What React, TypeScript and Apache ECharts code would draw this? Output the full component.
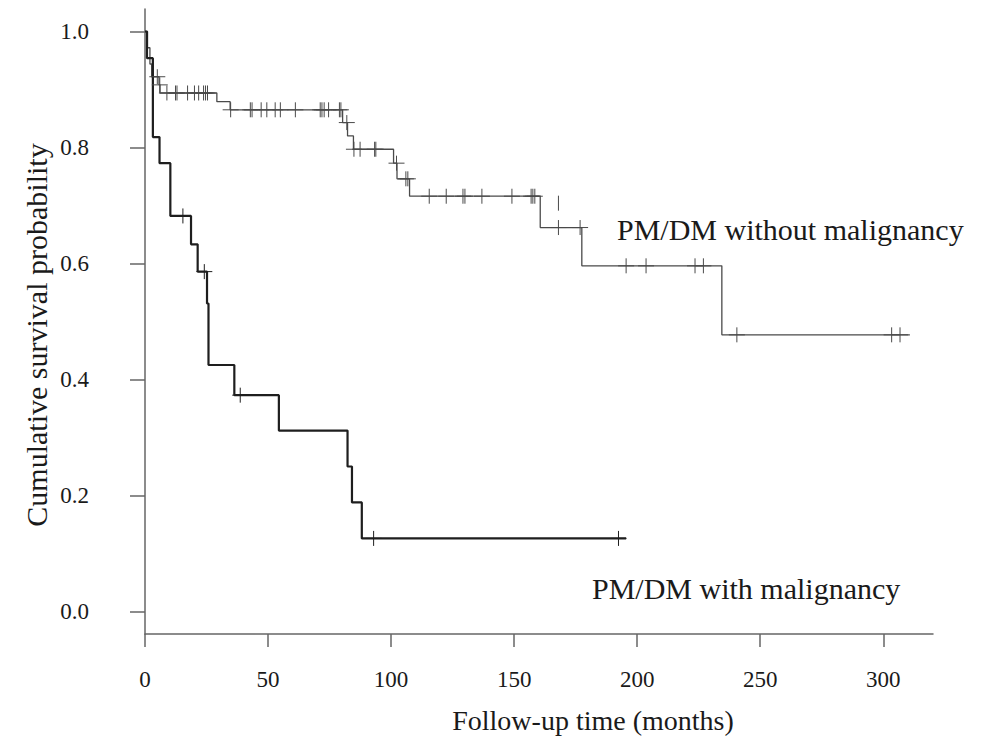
import React, { useEffect, useRef } from "react";
import * as echarts from "echarts";

// Kaplan-Meier curve: PM/DM without malignancy
const withoutTimes = [0, 1.0, 2.0, 2.7, 5.7, 6.1, 29.2, 34.6, 80.3, 82.3, 84.7, 101.0, 102.4, 107.5, 160.6, 177.5, 234.4, 310.8];
const withoutSurv = [1.0, 0.972, 0.944, 0.922, 0.908, 0.894, 0.879, 0.865, 0.843, 0.82, 0.797, 0.773, 0.746, 0.716, 0.662, 0.596, 0.477, 0.477];

// censored observations (time, survival) for "without"
const withoutCensorTimes = [5.0, 6.0, 8.9, 12.4, 13.0, 17.3, 20.1, 21.8, 23.8, 24.6, 25.4, 34.8, 42.8, 43.5, 47.2, 49.5, 52.9, 55.0, 61.1, 71.2, 71.9, 72.8, 74.6, 79.0, 79.6, 82.0, 84.9, 87.4, 93.3, 93.8, 102.2, 106.0, 106.8, 115.5, 122.4, 129.2, 130.0, 136.9, 149.1, 156.9, 157.6, 158.4, 168.0, 176.8, 195.5, 203.6, 223.5, 226.9, 240.5, 303.4, 306.8];
const withoutCensorSurv = [0.922, 0.908, 0.894, 0.894, 0.894, 0.894, 0.894, 0.894, 0.894, 0.894, 0.894, 0.865, 0.865, 0.865, 0.865, 0.865, 0.865, 0.865, 0.865, 0.865, 0.865, 0.865, 0.865, 0.865, 0.865, 0.843, 0.797, 0.797, 0.797, 0.797, 0.773, 0.746, 0.746, 0.716, 0.716, 0.716, 0.716, 0.716, 0.716, 0.716, 0.716, 0.716, 0.662, 0.662, 0.596, 0.596, 0.596, 0.596, 0.477, 0.477, 0.477];

// stray vertical censor mark
const strayMarkTimes = [168.0];
const strayMarkSurv = [0.704];

// Kaplan-Meier curve: PM/DM with malignancy
const withTimes = [0, 0.8, 3.2, 5.9, 10.3, 18.7, 21.4, 25.2, 25.8, 36.3, 54.4, 82.3, 84.1, 88.1, 195.5];
const withSurv = [1.0, 0.954, 0.818, 0.773, 0.682, 0.633, 0.586, 0.531, 0.425, 0.373, 0.312, 0.25, 0.188, 0.126, 0.126];

const withCensorTimes = [15.4, 24.1, 38.7, 92.9, 192.4];
const withCensorSurv = [0.682, 0.586, 0.373, 0.126, 0.126];

const xTicks = [0, 50, 100, 150, 200, 250, 300];
const yTicks = [0, 0.2, 0.4, 0.6, 0.8, 1.0];

const FONT = "'Liberation Serif', 'Times New Roman', serif";

function plusRenderer(color: string, withHorizontal: boolean) {
  return (params: any, api: any) => {
    const p = api.coord([api.value(0), api.value(1)]);
    const children: any[] = [
      {
        type: "line",
        shape: { x1: p[0], y1: p[1] - 7.5, x2: p[0], y2: p[1] + 7.5 },
        style: { stroke: color, lineWidth: 1 },
      },
    ];
    if (withHorizontal) {
      children.push({
        type: "line",
        shape: { x1: p[0] - 8, y1: p[1], x2: p[0] + 8, y2: p[1] },
        style: { stroke: color, lineWidth: 1 },
      });
    }
    return { type: "group", children };
  };
}

export default function App() {
  const ref = useRef<HTMLDivElement>(null);
  useEffect(() => {
    if (!ref.current) return;
    const chart = echarts.init(ref.current, undefined, { renderer: "svg" });
    const thinColor = "#4a4a4a";
    const thickColor = "#1e1e1e";
    const axisColor = "#666";
    chart.setOption({
      animation: false,
      backgroundColor: "#fff",
      grid: { left: 145, right: 54, top: 9, bottom: 105 },
      xAxis: {
        type: "value",
        min: 0,
        max: 320.2,
        interval: 50,
        axisLine: { show: true, onZero: false, lineStyle: { color: axisColor, width: 1.5 } },
        axisTick: { show: true, length: 13, lineStyle: { color: axisColor, width: 1.5 }, customValues: xTicks },
        axisLabel: { customValues: xTicks, fontFamily: FONT, fontSize: 23, color: "#1a1a1a", margin: 34 },
        splitLine: { show: false },
      },
      yAxis: {
        type: "value",
        min: -0.0388,
        max: 1.0388,
        axisLine: { show: true, onZero: false, lineStyle: { color: axisColor, width: 1.5 } },
        axisTick: { show: true, length: 15, lineStyle: { color: axisColor, width: 1.5 }, customValues: yTicks },
        axisLabel: {
          customValues: yTicks,
          formatter: (v: number) => v.toFixed(1),
          fontFamily: FONT,
          fontSize: 23,
          color: "#1a1a1a",
          margin: 56,
        },
        splitLine: { show: false },
      },
      graphic: [
        {
          type: "text",
          x: 36,
          y: 335,
          rotation: Math.PI / 2,
          style: {
            text: "Cumulative survival probability",
            font: `30px ${FONT}`,
            fill: "#1a1a1a",
            textAlign: "center",
            textVerticalAlign: "middle",
          },
        },
        {
          type: "text",
          x: 593,
          y: 720,
          style: {
            text: "Follow-up time (months)",
            font: `28px ${FONT}`,
            fill: "#1a1a1a",
            textAlign: "center",
            textVerticalAlign: "middle",
          },
        },
        {
          type: "text",
          x: 617,
          y: 229,
          style: {
            text: "PM/DM without malignancy",
            font: `30px ${FONT}`,
            fill: "#1a1a1a",
            textAlign: "left",
            textVerticalAlign: "middle",
          },
        },
        {
          type: "text",
          x: 592,
          y: 588,
          style: {
            text: "PM/DM with malignancy",
            font: `30px ${FONT}`,
            fill: "#1a1a1a",
            textAlign: "left",
            textVerticalAlign: "middle",
          },
        },
      ],
      series: [
        {
          type: "line",
          step: "end",
          showSymbol: false,
          data: withoutTimes.map((t, i) => [t, withoutSurv[i]]),
          lineStyle: { color: thinColor, width: 1.3 },
          z: 2,
        },
        {
          type: "line",
          step: "end",
          showSymbol: false,
          data: withTimes.map((t, i) => [t, withSurv[i]]),
          lineStyle: { color: thickColor, width: 2.2 },
          z: 3,
        },
        {
          type: "custom",
          renderItem: plusRenderer(thinColor, true),
          data: withoutCensorTimes.map((t, i) => [t, withoutCensorSurv[i]]),
          z: 4,
        },
        {
          type: "custom",
          renderItem: plusRenderer(thinColor, false),
          data: strayMarkTimes.map((t, i) => [t, strayMarkSurv[i]]),
          z: 4,
        },
        {
          type: "custom",
          renderItem: plusRenderer(thickColor, true),
          data: withCensorTimes.map((t, i) => [t, withCensorSurv[i]]),
          z: 4,
        },
      ],
    });
    return () => chart.dispose();
  }, []);
  return (
    <div
      ref={ref}
      style={{ position: "fixed", left: 0, top: 0, width: 987, height: 739, background: "#fff" }}
    />
  );
}
